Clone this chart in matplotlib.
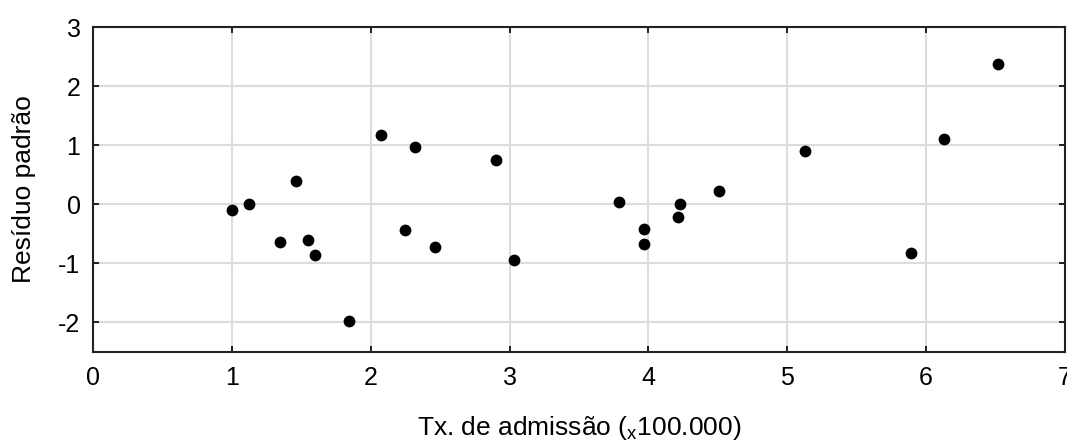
import matplotlib
matplotlib.use("Agg")
import matplotlib.pyplot as plt

plt.rcParams['font.family'] = ['Liberation Sans', 'DejaVu Sans']
plt.rcParams['mathtext.fontset'] = 'custom'
plt.rcParams['mathtext.rm'] = 'Liberation Sans'
plt.rcParams['axes.unicode_minus'] = False

taxa = [1.00, 1.125, 1.35, 1.46, 1.545, 1.60, 1.845, 2.075, 2.25, 2.32, 2.46,
        2.905, 3.03, 3.79, 3.97, 3.97, 4.215, 4.23, 4.51, 5.13, 5.89, 6.13, 6.515]
residuo = [-0.09, 0.01, -0.63, 0.39, -0.60, -0.86, -1.98, 1.17, -0.44, 0.975, -0.73,
           0.745, -0.95, 0.04, -0.41, -0.67, -0.21, 0.01, 0.23, 0.91, -0.82, 1.10, 2.38]
x_ticks = [0, 1, 2, 3, 4, 5, 6, 7]
y_ticks = [-2, -1, 0, 1, 2, 3]

fig = plt.figure(figsize=(10.67, 4.41), dpi=100)
ax = fig.add_axes([93/1067, 1-352/441, (1065-93)/1067, (352-27)/441])
ax.scatter(taxa, residuo, s=72, color='black', zorder=3, linewidths=0)
ax.set_xlim(0, 7)
ax.set_ylim(-2.5, 3)
ax.set_xticks(x_ticks)
ax.set_yticks(y_ticks)
ax.grid(True, color='#dcdcdc', linewidth=1.5, zorder=0)
ax.set_axisbelow(True)
for s in ax.spines.values():
    s.set_linewidth(1.5)
    s.set_color('#222222')
ax.tick_params(direction='in', length=4, width=1.2, top=True, right=True,
               labelsize=18, colors='black')
ax.tick_params(axis='x', pad=10)
ax.tick_params(axis='y', pad=9)
ax.set_xlabel(r"Tx. de admissão ($\mathregular{_x}$100.000)", fontsize=19, labelpad=17)
ax.set_ylabel("Resíduo padrão", fontsize=19, labelpad=16)
fig.savefig("out.png", dpi=100)
